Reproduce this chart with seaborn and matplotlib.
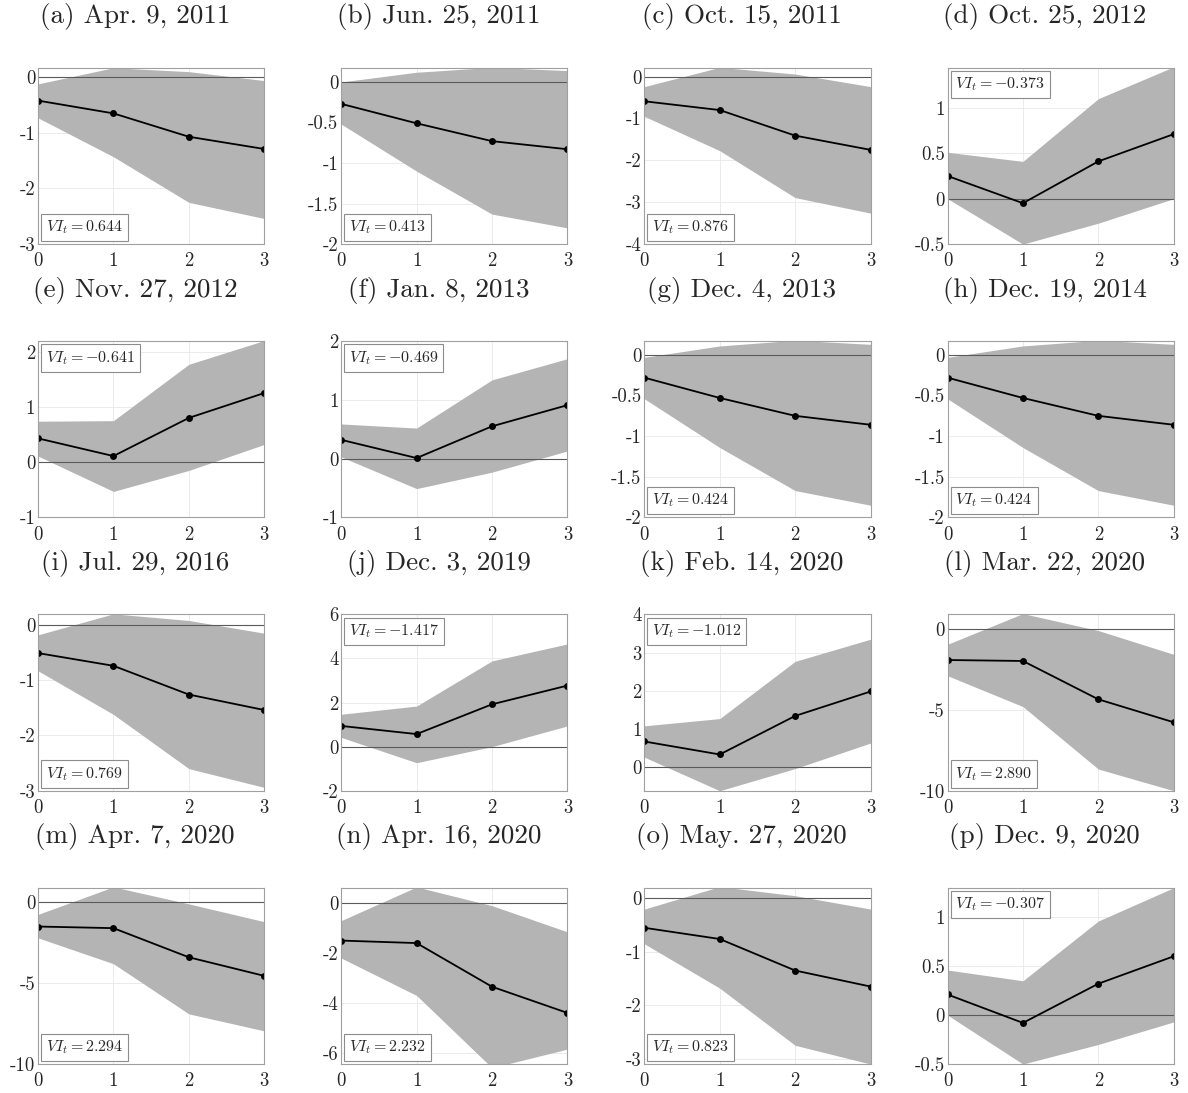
"""Respostas ao impulso (16 episódios) com banda de confiança e VI_t."""

import matplotlib
matplotlib.use("Agg")
import matplotlib.pyplot as plt
import numpy as np
import pandas as pd
import seaborn as sns
from matplotlib.ticker import FuncFormatter, MultipleLocator

horizon = [0, 1, 2, 3]

titles = [
    "(a) Apr. 9, 2011", "(b) Jun. 25, 2011", "(c) Oct. 15, 2011", "(d) Oct. 25, 2012",
    "(e) Nov. 27, 2012", "(f) Jan. 8, 2013", "(g) Dec. 4, 2013", "(h) Dec. 19, 2014",
    "(i) Jul. 29, 2016", "(j) Dec. 3, 2019", "(k) Feb. 14, 2020", "(l) Mar. 22, 2020",
    "(m) Apr. 7, 2020", "(n) Apr. 16, 2020", "(o) May. 27, 2020", "(p) Dec. 9, 2020",
]

vi_values = [0.644, 0.413, 0.876, -0.373,
             -0.641, -0.469, 0.424, 0.424,
             0.769, -1.417, -1.012, 2.890,
             2.294, 2.232, 0.823, -0.307]

irf_mean = [
    [-0.42, -0.65, -1.07, -1.29],
    [-0.27, -0.51, -0.73, -0.83],
    [-0.59, -0.80, -1.41, -1.75],
    [0.25, -0.05, 0.41, 0.71],
    [0.43, 0.11, 0.80, 1.25],
    [0.32, 0.01, 0.55, 0.91],
    [-0.28, -0.53, -0.75, -0.86],
    [-0.28, -0.53, -0.75, -0.86],
    [-0.51, -0.74, -1.26, -1.54],
    [0.94, 0.57, 1.92, 2.77],
    [0.67, 0.33, 1.34, 1.98],
    [-1.92, -1.98, -4.35, -5.77],
    [-1.50, -1.60, -3.40, -4.55],
    [-1.50, -1.60, -3.35, -4.40],
    [-0.55, -0.76, -1.35, -1.65],
    [0.21, -0.08, 0.32, 0.60],
]

band_hi = [
    [-0.12, 0.17, 0.10, -0.06],
    [0.00, 0.12, 0.18, 0.14],
    [-0.24, 0.22, 0.06, -0.24],
    [0.51, 0.41, 1.10, 1.45],
    [0.74, 0.75, 1.77, 2.20],
    [0.59, 0.52, 1.34, 1.70],
    [-0.03, 0.11, 0.18, 0.13],
    [-0.03, 0.11, 0.18, 0.13],
    [-0.18, 0.20, 0.08, -0.15],
    [1.47, 1.84, 3.89, 4.66],
    [1.08, 1.27, 2.77, 3.35],
    [-0.95, 0.95, -0.10, -1.57],
    [-0.75, 0.95, -0.10, -1.20],
    [-0.70, 0.65, -0.10, -1.15],
    [-0.20, 0.22, 0.05, -0.20],
    [0.46, 0.35, 0.96, 1.30],
]

band_lo = [
    [-0.73, -1.43, -2.25, -2.54],
    [-0.52, -1.10, -1.63, -1.80],
    [-0.95, -1.77, -2.89, -3.26],
    [0.00, -0.50, -0.27, 0.00],
    [0.11, -0.53, -0.15, 0.32],
    [0.03, -0.51, -0.23, 0.13],
    [-0.54, -1.14, -1.67, -1.85],
    [-0.54, -1.14, -1.67, -1.85],
    [-0.83, -1.62, -2.60, -2.94],
    [0.42, -0.73, 0.00, 0.94],
    [0.26, -0.62, -0.04, 0.63],
    [-2.89, -4.80, -8.66, -10.0],
    [-2.20, -3.80, -6.90, -7.95],
    [-2.20, -3.70, -6.60, -5.85],
    [-0.85, -1.68, -2.75, -3.10],
    [0.00, -0.50, -0.30, -0.07],
]

y_limits = [
    (-3, 0.17), (-2, 0.175), (-4, 0.21), (-0.5, 1.44),
    (-1, 2.19), (-1, 2), (-2, 0.17), (-2, 0.17),
    (-3, 0.19), (-2, 6), (-0.62, 4), (-10, 0.9),
    (-10, 0.9), (-6.45, 0.62), (-3.1, 0.2), (-0.5, 1.3),
]

y_steps = [1, 0.5, 1, 0.5, 1, 1, 0.5, 0.5, 1, 2, 1, 5, 5, 2, 1, 0.5]

sns.set_style("white")
plt.rcParams["font.family"] = ["cmr10", "DejaVu Serif"]
plt.rcParams["mathtext.fontset"] = "cm"
plt.rcParams["axes.unicode_minus"] = False

fig, axes = plt.subplots(4, 4, figsize=(11.88, 10.93), dpi=100)
fig.subplots_adjust(left=0.032, right=0.988, top=0.938, bottom=0.0265,
                    wspace=0.34, hspace=0.55)

for i, ax in enumerate(axes.flat):
    df = pd.DataFrame({"h": horizon, "irf": irf_mean[i]})
    ax.fill_between(horizon, band_lo[i], band_hi[i], color="#b4b4b4", lw=0, zorder=1)
    ax.axhline(0, color="#5a5a5a", lw=0.8, zorder=2)
    sns.lineplot(data=df, x="h", y="irf", ax=ax, color="black", lw=1.3,
                 marker="o", markersize=5, markeredgewidth=0, zorder=3)

    ax.set_xlim(0, 3)
    ax.set_ylim(*y_limits[i])
    ax.set_xticks(horizon)
    ax.yaxis.set_major_locator(MultipleLocator(y_steps[i]))
    ax.yaxis.set_major_formatter(FuncFormatter(lambda v, p: f"{v:g}"))
    ax.set_xlabel("")
    ax.set_ylabel("")
    ax.grid(True, color="#e8e8e8", lw=0.6)
    ax.set_axisbelow(True)
    ax.tick_params(direction="in", length=3, color="#8c8c8c", labelsize=13.5)
    ax.tick_params(axis="x", pad=6)
    ax.tick_params(axis="y", pad=2)
    for s in ax.spines.values():
        s.set_color("#a0a0a0")
        s.set_linewidth(0.8)
        s.set_zorder(4)

    ax.set_title(titles[i], fontsize=19.5, pad=32, x=0.43)

    vi_txt = f"$VI_t = {vi_values[i]:.3f}$"
    if vi_values[i] > 0:
        ax.text(0.035, 0.045, vi_txt, transform=ax.transAxes, fontsize=11.5,
                ha="left", va="bottom", zorder=5,
                bbox=dict(boxstyle="square,pad=0.3", fc="white", ec="#8c8c8c", lw=0.8))
    else:
        ax.text(0.035, 0.955, vi_txt, transform=ax.transAxes, fontsize=11.5,
                ha="left", va="top", zorder=5,
                bbox=dict(boxstyle="square,pad=0.3", fc="white", ec="#8c8c8c", lw=0.8))

fig.savefig("out.png", dpi=100)
plt.close(fig)
